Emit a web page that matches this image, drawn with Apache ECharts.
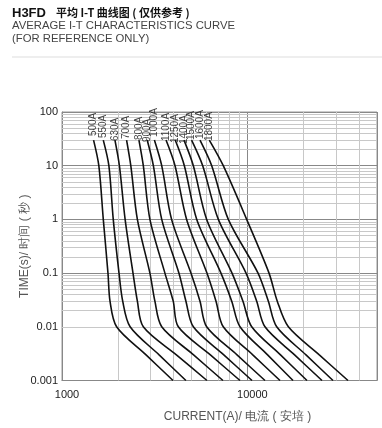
<!DOCTYPE html>
<html><head><meta charset="utf-8">
<script src="https://cdn.jsdelivr.net/npm/echarts@6/dist/echarts.min.js"></script>
<style>html,body{margin:0;padding:0;background:#fff}#c{width:382px;height:428px}</style>
</head><body><div id="c"></div>
<script>
// time points (s) at which each curve's current (A) was read
const times = [30, 10, 1, 0.1, 0.03, 0.01, 0.003, 0.001];
const ratings = ['500A','550A','630A','700A','800A','900A','1000A','1100A','1250A','1400A','1500A','1600A','1800A'];
const c500A  = [1480, 1580, 1670, 1770, 1815, 1970, 2840, 3970];
const c550A  = [1670, 1790, 1890, 2030, 2125, 2330, 3340, 4660];
const c630A  = [1930, 2040, 2190, 2415, 2550, 2745, 4140, 6050];
const c700A  = [2230, 2350, 2550, 2980, 3170, 3450, 5125, 7380];
const c800A  = [2600, 2745, 2980, 3590, 3980, 4240, 6315, 9120];
const c900A  = [2880, 3110, 3450, 4270, 4660, 5110, 7460, 10590];
const c1000A = [3150, 3450, 3900, 4960, 5550, 6030, 8790, 12440];
const c1100A = [3640, 4070, 4700, 6050, 6770, 7410, 10690, 14990];
const c1250A = [4080, 4570, 5330, 7200, 8230, 9120, 12850, 17620];
const c1400A = [4550, 5110, 6030, 8260, 9460, 10550, 15085, 20960];
const c1500A = [5000, 5740, 6970, 9830, 11220, 12440, 17970, 25250];
const c1600A = [5550, 6420, 7890, 11410, 12970, 14390, 20700, 28950];
const c1800A = [6230, 7410, 9910, 13080, 14490, 16630, 24420, 34880];
const curves = [c500A,c550A,c630A,c700A,c800A,c900A,c1000A,c1100A,c1250A,c1400A,c1500A,c1600A,c1800A];
// axis range and grid values
const xMin = 1000, xMax = 50000, yMin = 0.001, yMax = 100;
const minorX = [2000,3000,4000,5000,6000,7000,8000,9000,20000,30000,40000];
const minorY = [];
[0.001,0.01,0.1,1,10].forEach(d => { for (let k = 2; k <= 9; k++) minorY.push(+(d*k).toPrecision(6)); });

// style only: horizontal nudge of each rotated rating label (px)
const labelDx = [-1,-3,-6,-4,-5,-7,-2,-6,-8,-9,-5,-4,-6];

const isPow10 = v => Math.abs(Math.log10(v) - Math.round(Math.log10(v))) < 1e-6;
const fmt = v => String(+(+v).toPrecision(6));
const FONT = 'Liberation Sans, Arial, sans-serif';

const series = curves.map((arr, i) => ({
  type: 'line', name: ratings[i], z: 5,
  data: arr.map((I, j) => [I, times[j]]),
  showSymbol: false, symbol: 'none', smooth: 0.3,
  lineStyle: { color: '#111', width: 1.6 },
  silent: true, animation: false
}));
series.push({
  type: 'scatter', name: 'labels', z: 6, silent: true, animation: false,
  symbolSize: 0,
  data: curves.map((arr, i) => ({
    value: [arr[0], times[0]],
    label: { show: true, formatter: ratings[i], rotate: 90, position: 'top', distance: 5,
      align: 'left', verticalAlign: 'middle', offset: [labelDx[i], 0],
      fontSize: 10, color: '#111', fontFamily: FONT }
  }))
});
series.push({
  type: 'line', name: 'minorGrid', z: 1, data: [], silent: true, animation: false,
  markLine: {
    silent: true, symbol: 'none', animation: false, label: { show: false },
    lineStyle: { color: '#c8c8c8', width: 1, type: 'solid' },
    data: minorX.map(v => ({ xAxis: v })).concat(minorY.map(v => ({ yAxis: v })))
  }
});

const chart = echarts.init(document.getElementById('c'), null, { renderer: 'canvas' });
chart.setOption({
  animation: false,
  backgroundColor: '#fff',
  textStyle: { fontFamily: FONT },
  title: [
    { left: 12, top: 4, padding: 0,
      text: '{a|H3FD}  {b|平均 I-T 曲线图 ( 仅供参考 )}',
      textStyle: { rich: {
        a: { fontSize: 13, fontWeight: 'bold', color: '#111', fontFamily: FONT },
        b: { fontSize: 11, fontWeight: 'bold', color: '#111', fontFamily: 'Noto Sans CJK SC, sans-serif' } } } },
    { left: 12, top: 20, padding: 0, text: 'AVERAGE I-T CHARACTERISTICS CURVE',
      textStyle: { fontSize: 11.3, fontWeight: 'normal', color: '#444', fontFamily: FONT } },
    { left: 12, top: 33, padding: 0, text: '(FOR REFERENCE ONLY)',
      textStyle: { fontSize: 11.3, fontWeight: 'normal', color: '#444', fontFamily: FONT } }
  ],
  graphic: [{ type: 'line', shape: { x1: 12, y1: 57, x2: 382, y2: 57 }, style: { stroke: '#ddd', lineWidth: 1 } }],
  grid: { left: 62, right: 5, top: 112, bottom: 47.5, show: true, borderColor: '#999', borderWidth: 1, containLabel: false },
  xAxis: {
    type: 'log', logBase: 10, min: xMin, max: xMax,
    name: 'CURRENT(A)/ 电流 ( 安培 )', nameLocation: 'middle', nameGap: 30, nameMoveOverlap: false,
    nameTextStyle: { fontSize: 12, color: '#555', padding: [0, 0, 0, 36] },
    axisLine: { show: true, lineStyle: { color: '#888' } },
    axisTick: { show: false },
    axisLabel: { margin: 9, fontSize: 11, color: '#222', padding: [0, 0, 0, 10],
      formatter: v => isPow10(v) ? fmt(v) : '' },
    splitLine: { show: true, lineStyle: { color: '#888', width: 1 } }
  },
  yAxis: {
    type: 'log', logBase: 10, min: yMin, max: yMax,
    name: 'TIME(s)/ 时间 ( 秒 )', nameLocation: 'middle', nameGap: 31, nameRotate: 90, nameMoveOverlap: false,
    nameTextStyle: { fontSize: 12, color: '#555' },
    axisLine: { show: true, lineStyle: { color: '#888' } },
    axisTick: { show: false },
    axisLabel: { margin: 4, fontSize: 11, color: '#222', formatter: v => fmt(v) },
    splitLine: { show: true, lineStyle: { color: '#888', width: 1 } }
  },
  series
});
</script></body></html>
